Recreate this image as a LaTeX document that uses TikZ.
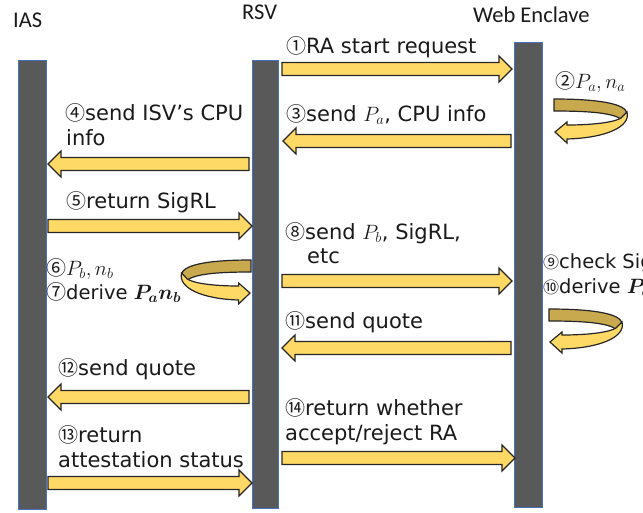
\documentclass[tikz,border=0pt]{standalone}
\usepackage{amsmath}
\usepackage{fontspec}
\setmainfont{DejaVu Sans}
\newfontfamily\titlefont{Carlito}
\newfontfamily\circfont{Noto Sans CJK JP}
\newcommand\cnum[1]{{\circfont\fontsize{20}{25}\selectfont #1}}
\newcommand\cnumsm[1]{{\circfont\fontsize{16}{25}\selectfont #1}}
\newcommand\mth[1]{{\fontsize{22}{25}\selectfont$#1$}}
\definecolor{barfill}{HTML}{595959}
\definecolor{baredge}{HTML}{4472C4}
\definecolor{arrfill}{HTML}{FFD966}
\definecolor{arrback}{HTML}{C9A94D}
\definecolor{arredge}{HTML}{262626}
\definecolor{txt}{HTML}{1A1A1A}
% block arrow: tail x, tip x, y, direction sign (+1 right, -1 left)
\newcommand\blockarrow[4]{%
  \draw[blk] (#1,#3-6.5) -- ({#2-(#4)*13},#3-6.5) -- ({#2-(#4)*13},#3-13) -- (#2,#3)
    -- ({#2-(#4)*13},#3+13) -- ({#2-(#4)*13},#3+6.5) -- (#1,#3+6.5) -- cycle;}
\begin{document}
\begin{tikzpicture}[x=1pt,y=-1pt,
  bar/.style={draw=baredge, line width=0.6pt, fill=barfill, minimum width=28pt, inner sep=0pt, rectangle},
  blk/.style={draw=arredge, line width=1.2pt, fill=arrfill, line join=miter},
  backband/.style={draw=arredge, line width=1.2pt, fill=arrback},
  lbl/.style={anchor=base west, inner sep=0pt, text=txt, font=\fontsize{21}{25}\selectfont},
  lblsm/.style={lbl, font=\fontsize{19.5}{25}\selectfont},
  ttl/.style={anchor=base west, inner sep=0pt, text=txt, font=\titlefont\fontsize{22.5}{25}\selectfont},
  uturn/.pic={
    \draw[backband] (-1,-33) .. controls (45,-33) and (72,-28) .. (72,-18) -- (66,-13)
      .. controls (57,-19) and (35,-21) .. (-1,-21) -- cycle;
    \draw[blk] (72,-20) .. controls (76,-5) and (50,6) .. (12,7) -- (12,11) -- (0,0)
      -- (12,-10) -- (12,-7) .. controls (40,-7) and (60,-10) .. (66,-14) -- cycle;
  }]
\clip (0,0) rectangle (643,512);
\fill[white] (0,0) rectangle (643,512);

% lifelines
\node[bar, minimum height=449pt] (ias) at (32,284.5) {};
\node[bar, minimum width=26pt, minimum height=448pt] (rsv) at (265,284) {};
\node[bar, minimum height=465pt] (we) at (528,274.5) {};

% titles
\node[ttl] (iast) at (13,27) {IAS};
\node[ttl] (rsvt) at (242,19) {RSV};
\node[ttl] (wet) at (473,22) {Web Enclave};

% block arrows
\blockarrow{282}{512}{69}{1}
\blockarrow{511}{283}{141}{-1}
\blockarrow{249}{48}{164}{-1}
\blockarrow{48}{252}{226}{1}
\blockarrow{282}{512}{281}{1}
\blockarrow{511}{282}{348}{-1}
\blockarrow{249}{48}{397}{-1}
\blockarrow{48}{252}{483}{1}
\blockarrow{282}{515}{458}{1}

% u-turn arrows
\pic at (555,132) {uturn};
\pic[xscale=-0.95] at (250,293) {uturn};
\pic at (550,342) {uturn};

% labels
\node[lbl] (t1) at (286,53) {\cnum{①}RA start request};
\node[lbl] (t2) at (555,88) {\cnum{②}\mth{P_a, n_a}};
\node[lbl] (t3) at (286,121) {\cnum{③}send \mth{P_a}, CPU info};
\node[lbl] (t4a) at (65,120) {\cnum{④}send ISV’s CPU};
\node[lbl] (t4b) at (66,145) {info};
\node[lbl] (t5) at (66,208) {\cnum{⑤}return SigRL};
\node[lbl] (t6) at (46,275) {\cnum{⑥}\mth{P_b, n_b}};
\node[lblsm] (t7) at (46,299) {\cnum{⑦}derive \mth{\boldsymbol{P_a n_b}}};
\node[lbl] (t8a) at (285,239) {\cnum{⑧}send \mth{P_b}, SigRL,};
\node[lbl] (t8b) at (307,263) {etc};
\node[lblsm] (t9) at (543,268) {\cnumsm{⑨}check SigRL};
\node[lblsm] (t10) at (543,293) {\cnumsm{⑩}derive \mth{\boldsymbol{P_b n_a}}};
\node[lbl] (t11) at (285,328) {\cnum{⑪}send quote};
\node[lbl] (t12) at (58,375) {\cnum{⑫}send quote};
\node[lbl] (t13a) at (58,442) {\cnum{⑬}return};
\node[lbl] (t13b) at (58,467) {attestation status};
\node[lbl] (t14a) at (285,415) {\cnum{⑭}return whether};
\node[lbl] (t14b) at (285,440) {accept/reject RA};
\end{tikzpicture}
\end{document}
